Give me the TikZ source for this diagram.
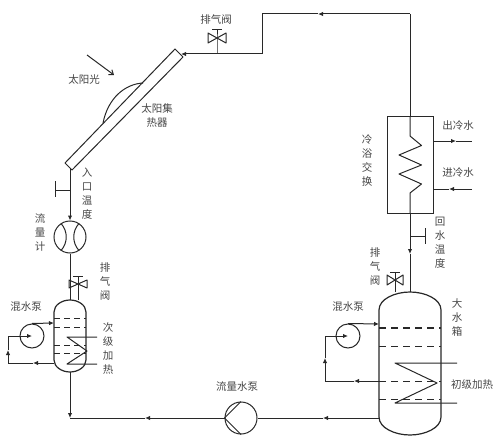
\documentclass[tikz,border=0pt]{standalone}
\usepackage{fontspec}
\usepackage{tikz}
\usetikzlibrary{arrows.meta, positioning, calc}
\newfontfamily\cjkfont{Noto Sans CJK SC}
\definecolor{pipegray}{RGB}{40,40,40}
\definecolor{textgray}{RGB}{70,70,70}

\begin{document}
\begin{tikzpicture}[
    x=1pt, y=-1pt,
    every node/.style={font=\fontsize{10.5}{14}\selectfont\cjkfont, text=textgray, inner sep=0pt},
    pipe/.style={draw=pipegray, line width=1pt, line join=round},
    tip/.style={-{Latex[length=5pt,width=4.5pt]}},
    vlabel/.style={align=center},
    meter/.style={circle, draw=pipegray, line width=1pt, minimum size=32pt},
    mixpump/.style={circle, draw=pipegray, line width=1pt, minimum size=24pt},
    dashline/.style={draw=pipegray, line width=1pt, dash pattern=on 7pt off 5pt}
]
\useasboundingbox (0,0) rectangle (500,441);

% labels
\node (ventA) at (216,20) {排气阀};
\node (sunlight) at (84,80) {太阳光};
\node[vlabel] (collectorlabel) at (157,116) {太阳集\\热器};
\node[vlabel] (inlettemp) at (87,194) {入\\口\\温\\度};
\node[vlabel] (flowlabel) at (40,233) {流\\量\\计};
\node[vlabel] (ventB) at (105,282) {排\\气\\阀};
\node (mixA) at (26,307) {混水泵};
\node[vlabel] (heatB) at (108,349) {次\\级\\加\\热};
\node (pumplabel) at (237,387) {流量水泵};
\node[vlabel] (exchlabel) at (367,161) {冷\\浴\\交\\换};
\node (outcold) at (458,126) {出冷水};
\node (incold) at (458,173) {进冷水};
\node[vlabel] (returntemp) at (440,243) {回\\水\\温\\度};
\node[vlabel] (ventC) at (375,267) {排\\气\\阀};
\node (mixB) at (348,307) {混水泵};
\node[vlabel] (bigtank) at (457,318) {大\\水\\箱};
\node (heatA) at (472,385) {初级加热};

% collector
\coordinate (colA) at (175,49);
\coordinate (colB) at (183,57);
\coordinate (colC) at (72,170);
\coordinate (colD) at (65,163);
\coordinate (arcA) at (103,123);
\coordinate (arcB) at (143,83);
\coordinate (sunA) at (87,55);
\coordinate (sunB) at (114,75);
\draw[pipe] (colA) -- (colB) -- (colC) -- (colD) -- cycle;
\draw[pipe] (arcA) .. controls (108,98) and (125,84) .. (arcB);
\draw[pipe, -{Straight Barb[length=4pt,width=6pt]}] (sunA) -- (sunB);

% top pipe and exchanger
\node[draw=pipegray, line width=1pt, minimum width=46pt, minimum height=96pt] (exch) at (410,165) {};
\coordinate (riseA) at (262,54);
\coordinate (riseB) at (262,14);
\coordinate (riseC) at (410,14);
\coordinate (topTip) at (318,14);
\coordinate (colIn) at (181,54);
\draw[pipe] (exch.north) -- (riseC);
\draw[pipe, tip] (riseC) -- (topTip);
\draw[pipe] (topTip) -- (riseB) -- (riseA);
\draw[pipe, tip] (riseA) -- (colIn);
\draw[pipe] (exch.north) -- (410,136) -- (421.5,145.5) -- (399,155) -- (421.5,165) -- (399,174) -- (421.5,184) -- (410,193) -- (exch.south);
\coordinate (outA) at (433,141);
\coordinate (outTip) at (456,141);
\coordinate (outB) at (472,141);
\coordinate (inA) at (433,189);
\coordinate (inTip) at (449,189);
\coordinate (inB) at (472,189);
\draw[pipe, tip] (outA) -- (outTip);
\draw[pipe] (outTip) -- (outB);
\draw[pipe, tip] (inB) -- (inTip);
\draw[pipe] (inTip) -- (inA);

% vent on top
\coordinate (ventAc) at (217,38);
\draw[pipe] (208,33) -- (226,43) -- (226,33) -- (208,43) -- cycle;
\draw[pipe] (217,54) -- (ventAc) -- (217,30);
\draw[pipe] (212,30) -- (222,30);

% big tank
\coordinate (tankTop) at (410,292);
\coordinate (tankLA) at (379,417);
\coordinate (returnTip) at (410,254);
\draw[pipe, line width=1.2pt] (379,310) .. controls (379,299) and (395,292) .. (tankTop) .. controls (425,292) and (441,299) .. (441,310) -- (441,417) .. controls (441,428) and (425,435) .. (410,435) .. controls (395,435) and (379,428) .. (tankLA) -- cycle;
\draw[dashline, line width=1.2pt] (379,328) -- (441,328);
\draw[dashline] (379,346) -- (441,346);
\draw[dashline] (379,381) -- (441,381);
\draw[dashline] (379,399) -- (441,399);
\draw[pipe] (457,363) -- (395,363) -- (437,383) -- (395,403) -- (457,403);
\draw[pipe, tip] (exch.south) -- (returnTip);
\draw[pipe] (returnTip) -- (tankTop);
\coordinate (sensorC) at (410,236);
\coordinate (sensorCb) at (425,236);
\draw[pipe] (sensorC) -- (sensorCb);
\draw[pipe] (425,228) -- (425,244);

% big tank vent
\draw[pipe] (387,275) -- (403,285) -- (403,275) -- (387,285) -- cycle;
\draw[pipe] (395,292) -- (395,272);
\draw[pipe] (390,272) -- (400,272);

% big tank mixing pump
\node[mixpump] (pumpB) at (348,336) {};
\coordinate (loopBa) at (379,381);
\coordinate (loopBtip) at (354,381);
\coordinate (loopBb) at (325,381);
\coordinate (loopBup) at (325,358);
\coordinate (loopBc) at (325,336);
\coordinate (pumpBin) at (379,324);
\draw[pipe, tip] (pumpB.north) -- (pumpBin);
\draw[pipe, tip] (loopBa) -- (loopBtip);
\draw[pipe] (loopBtip) -- (loopBb);
\draw[pipe, tip] (loopBb) -- (loopBup);
\draw[pipe] (loopBup) -- (loopBc);
\draw[pipe, tip] (loopBc) -- (pumpB.center);

% bottom pipe and pump
\node[meter] (mainpump) at (241,418) {};
\draw[pipe] (mainpump.west) -- (mainpump.north);
\draw[pipe] (mainpump.west) -- (mainpump.south);
\coordinate (tankOut) at (379,418);
\coordinate (tankOutTip) at (323,418);
\coordinate (bottomTip) at (145,418);
\coordinate (corner) at (70,418);
\draw[pipe, tip] (tankOut) -- (tankOutTip);
\draw[pipe] (tankOutTip) -- (mainpump.east);
\draw[pipe, tip] (mainpump.west) -- (bottomTip);
\draw[pipe] (bottomTip) -- (corner);

% small tank
\coordinate (smallTop) at (70,300);
\coordinate (smallBot) at (70,372);
\draw[pipe, line width=1.2pt] (54,312) .. controls (54,305) and (62,300) .. (smallTop) .. controls (78,300) and (86,305) .. (86,312) -- (86,360) .. controls (86,367) and (78,372) .. (smallBot) .. controls (62,372) and (54,367) .. (54,360) -- cycle;
\draw[dashline, dash pattern=on 6pt off 4pt] (54,318) -- (86,318);
\draw[dashline, dash pattern=on 6pt off 4pt] (54,327) -- (86,327);
\draw[dashline, dash pattern=on 6pt off 4pt] (54,345) -- (86,345);
\draw[dashline, dash pattern=on 6pt off 4pt] (54,353) -- (86,353);
\draw[pipe] (97,337) -- (67,337) -- (87,351) -- (67,364) -- (97,364);
\draw[pipe, tip] (smallBot) -- (corner);

% small tank mixing pump
\node[mixpump] (pumpA) at (32,336) {};
\coordinate (loopAa) at (54,363);
\coordinate (loopAtip) at (33,363);
\coordinate (loopAb) at (8,363);
\coordinate (loopAup) at (8,350);
\coordinate (loopAc) at (8,336);
\coordinate (pumpAin) at (54,323);
\draw[pipe, tip] (pumpA.north) -- (pumpAin);
\draw[pipe, tip] (loopAa) -- (loopAtip);
\draw[pipe] (loopAtip) -- (loopAb);
\draw[pipe, tip] (loopAb) -- (loopAup);
\draw[pipe] (loopAup) -- (loopAc);
\draw[pipe, tip] (loopAc) -- (pumpA.center);

% flow meter, inlet
\node[meter] (flowmeter) at (70,237) {};
\coordinate (colOut) at (70,168);
\draw[pipe] (61,223.5) .. controls (68,231) and (68,243) .. (61,250.5);
\draw[pipe] (79,223.5) .. controls (72,231) and (72,243) .. (79,250.5);
\draw[pipe, tip] (colOut) -- (flowmeter.north);
\draw[pipe] (flowmeter.south) -- (smallTop);
\coordinate (sensorA) at (70,190);
\coordinate (sensorAb) at (55,190);
\draw[pipe] (sensorA) -- (sensorAb);
\draw[pipe] (55,181) -- (55,197);

% small tank vent
\draw[pipe] (69,280) -- (87,288) -- (87,280) -- (69,288) -- cycle;
\draw[pipe] (78,300) -- (78,276);
\draw[pipe] (73,276) -- (83,276);

\end{tikzpicture}
\end{document}
